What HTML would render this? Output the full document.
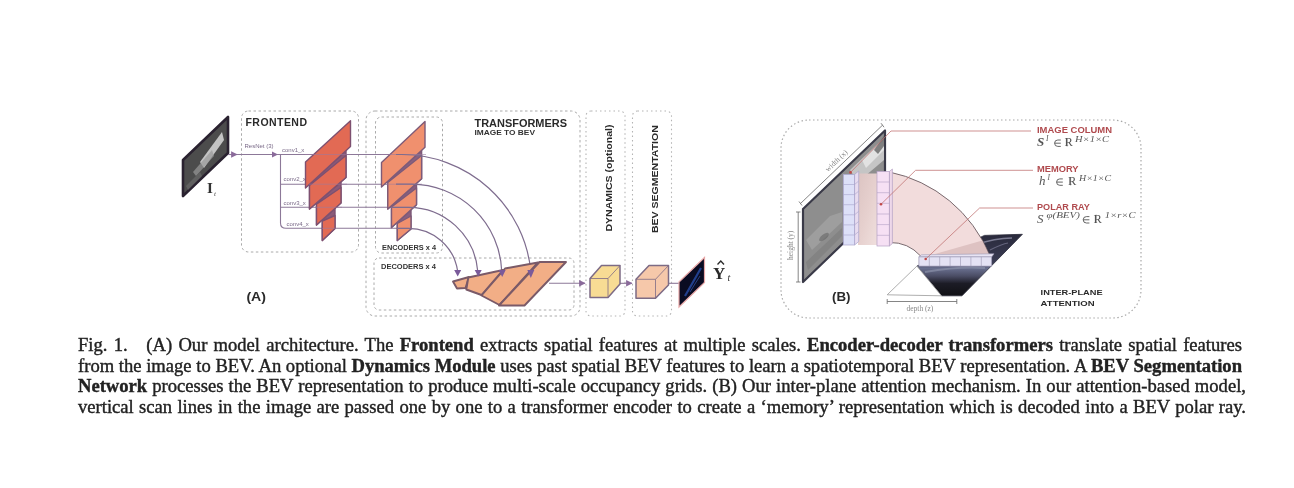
<!DOCTYPE html>
<html><head><meta charset="utf-8">
<style>
html,body{margin:0;padding:0;background:#fff;width:1294px;height:488px;overflow:hidden;position:relative}
body>svg,body>.cap{filter:blur(0.7px)}
.cap{position:absolute;left:78px;top:335px;width:1164px;font-family:"Liberation Serif",serif;font-size:18.6px;line-height:20.7px;color:#222;-webkit-text-stroke:0.4px #222}
.cap div{text-align:justify;text-align-last:justify;}
svg{position:absolute;left:0;top:0}
svg text{font-family:"Liberation Sans",sans-serif}
svg .sf text, svg text.sf{font-family:"Liberation Serif",serif}
</style></head><body>
<svg width="1294" height="488" viewBox="0 0 1294 488">
<defs>
<marker id="ah" viewBox="0 0 10 10" refX="9" refY="5" markerWidth="6.5" markerHeight="6.5" markerUnits="userSpaceOnUse" orient="auto"><path d="M0,0 L10,5 L0,10 Z" fill="#8a6a9a"/></marker>
</defs>
<!-- ===== FIGURE A ===== -->
<g fill="none" stroke="#aaaaaa" stroke-width="1" stroke-dasharray="2.5 2.5">
<rect x="241.5" y="111" width="117" height="141" rx="7"/>
<rect x="366" y="111" width="214" height="205" rx="9"/>
<rect x="375.5" y="117" width="67" height="136" rx="6"/>
<rect x="374" y="258" width="200" height="52" rx="5"/>
</g>
<g fill="none" stroke="#b4b4b4" stroke-width="1.1" stroke-dasharray="1.5 3">
<rect x="586" y="111" width="39" height="205" rx="5"/>
<rect x="632.5" y="111" width="39" height="205" rx="5"/>
</g>
<!-- input image -->
<polygon points="183,160 228,117 228,153 183,196" fill="#4c4c4c" stroke="#2a2230" stroke-width="2.6" stroke-linejoin="round"/>
<polygon points="200,162 222,132 224,140 204,168" fill="#d8d8d8" opacity="0.85"/>
<polygon points="193,172 212,150 214,156 196,176" fill="#9a9a9a" opacity="0.7"/>
<polygon points="186,186 200,172 202,176 188,190" fill="#6a6a6a" opacity="0.7"/>
<text x="207" y="193" font-family="Liberation Serif" font-size="15" font-weight="bold" fill="#333" style="font-family:'Liberation Serif'">I</text>
<text x="214" y="196" font-size="7" fill="#444" font-style="italic" style="font-family:'Liberation Serif'">t</text>
<!-- lines frontend -->
<g fill="none" stroke="#8c7898" stroke-width="1.1">
<path d="M228,154.5 H237" marker-end="url(#ah)"/>
<path d="M237,154.5 H277.5" marker-end="url(#ah)"/>
<path d="M277,154.5 H410"/>
<path d="M280.5,154.5 V223 Q280.5,228.3 286,228.3 H398"/>
<path d="M280.5,184.2 H405"/>
<path d="M280.5,207.3 H400"/>
</g>
<g font-size="6" fill="#7a6a88">
<text x="244.5" y="148">ResNet (3)</text>
<text x="282" y="151.5">conv1_x</text>
<text x="283.5" y="181">conv2_x</text>
<text x="283.5" y="205">conv3_x</text>
<text x="286.5" y="226">conv4_x</text>
</g>
<text x="245.5" y="126" font-size="10.5" font-weight="bold" fill="#2a2a2a" textLength="61.5" lengthAdjust="spacing">FRONTEND</text>
<text x="246.4" y="300.5" font-size="13.5" font-weight="bold" fill="#2a2a2a" textLength="19.6" lengthAdjust="spacingAndGlyphs">(A)</text>
<!-- frontend layers -->
<g stroke="#7d5070" stroke-width="1.4" stroke-linejoin="round" fill="#e26a54">
<path d="M322.3,240.5 V219.8 L335.0,208.4 V228.5 Z" fill="#8a5a78"/><path d="M322.3,240.5 V221.0 L335.0,215.5 V228.5 Z"/>
<path d="M316.5,225.0 V203.0 L341.0,181.8 V203.0 Z" fill="#8a5a78"/><path d="M316.5,225.0 V204.2 L341.0,187.5 V203.0 Z"/>
<path d="M309.5,209.0 V184.3 L346.0,150.7 V177.5 Z" fill="#8a5a78"/><path d="M309.5,209.0 V185.5 L346.0,155.5 V177.5 Z"/>
<path d="M305.5,188.0 V162.0 L350.5,120.8 V146.5 Z"/>
</g>
<!-- encoder layers -->
<g stroke="#7d5a78" stroke-width="1.4" stroke-linejoin="round" fill="#f0906e">
<path d="M397.3,240.5 V222.3 L411.0,209.7 V229.0 Z" fill="#8a6080"/><path d="M397.3,240.5 V223.5 L411.0,216.0 V229.0 Z"/>
<path d="M391.5,227.6 V205.7 L416.5,183.4 V204.7 Z" fill="#8a6080"/><path d="M391.5,227.6 V206.9 L416.5,188.0 V204.7 Z"/>
<path d="M387.8,209.0 V181.3 L421.6,150.4 V178.8 Z" fill="#8a6080"/><path d="M387.8,209.0 V182.5 L421.6,155.5 V178.8 Z"/>
<path d="M381.5,187.0 V162.5 L425.0,121.5 V147.3 Z"/>
</g>
<g fill="none" stroke="#9a7aa0" stroke-width="1" opacity="0.55">
<path d="M305,154.5 H351 M309,184.2 H347 M316,207.3 H342 M322,228.3 H336"/>
<path d="M381,154.5 H426 M387,184.2 H422 M391,207.3 H417 M397,228.3 H412"/>
</g>
<g fill="none" stroke="#7e6c8e" stroke-width="1.2">
<path d="M396,154.5 H401.7 A129.8 129.8 0 0 1 530.8,271"/>
<path d="M396,184.2 H411.4 A90.4 90.4 0 0 1 501.7,271"/>
<path d="M392,207.3 H408.4 A69.6 69.6 0 0 1 477.7,271"/>
<path d="M398,228.3 H408.2 A49.9 49.9 0 0 1 457.6,271"/>
</g>
<g font-size="6.5" font-weight="bold" fill="#333">
<text x="382" y="249.5" textLength="54" lengthAdjust="spacingAndGlyphs">ENCODERS x 4</text>
<text x="381" y="268.5" textLength="55" lengthAdjust="spacingAndGlyphs">DECODERS x 4</text>
</g>
<text x="474.5" y="126.5" font-size="11.5" font-weight="bold" fill="#2a2a2a" textLength="92.5" lengthAdjust="spacingAndGlyphs">TRANSFORMERS</text>
<text x="474.5" y="135" font-size="6.8" font-weight="bold" fill="#333" textLength="60.5" lengthAdjust="spacingAndGlyphs">IMAGE TO BEV</text>
<!-- decoders -->
<g stroke="#7a5a68" stroke-width="1.9" stroke-linejoin="round" fill="#f2ae86">
<path d="M453,281.5 L469,277 L465.5,288 L457,288.5 Z"/>
<path d="M468.3,277.5 L503,270 L481.5,295 L466.3,289.5 Z"/>
<path d="M505,268.5 L538,262.5 L499.5,305 L481.5,295.5 Z"/>
<path d="M539.5,262 H566 L524.5,305.5 H499 Z"/>
</g>
<g fill="#7a5a9a">
<path d="M454.2,270 H461.2 L457.7,276.5 Z"/>
<path d="M474.7,270 H481.7 L478.2,276.5 Z"/>
<path d="M498.7,270 H505.7 L502.2,277 Z"/>
<path d="M527.3,270 H534.3 L530.8,278 Z"/>
</g>
<g fill="none" stroke="#8c7898" stroke-width="1.1">
<path d="M549,283.3 H585" marker-end="url(#ah)"/>
<path d="M608,283.3 H632" marker-end="url(#ah)"/>
<path d="M655,283.3 H681"/>
</g>
<!-- rotated labels -->
<text transform="translate(611.5,231.5) rotate(-90)" font-size="9.6" font-weight="bold" fill="#2a2a2a" textLength="107" lengthAdjust="spacingAndGlyphs">DYNAMICS (optional)</text>
<text transform="translate(658,233) rotate(-90)" font-size="9.6" font-weight="bold" fill="#2a2a2a" textLength="107.8" lengthAdjust="spacingAndGlyphs">BEV SEGMENTATION</text>
<!-- cubes -->
<g stroke="#7d6b85" stroke-width="1.5" stroke-linejoin="round">
<path d="M590,278.5 L601.5,265.5 H620 V284 L608,297.5 H590 Z" fill="#f8dc94"/>
<path d="M590,278.5 H608 L620,265.5 M608,278.5 V297.5" fill="none" stroke-width="0.8"/>
<path d="M636,279.3 L649,265.5 H668.5 V285 L655.5,298.3 H636 Z" fill="#f6c8aa"/>
<path d="M636,279.3 H655.5 L668.5,265.5 M655.5,279.3 V298.3" fill="none" stroke-width="0.8"/>
</g>
<!-- output -->
<polygon points="679,282 704.5,257.5 704.5,282.5 679,307" fill="#0a0c22" stroke="#e8a8a8" stroke-width="1.2"/>
<path d="M685,296 Q692,284 701,268" stroke="#2a50b0" stroke-width="2.2" fill="none" opacity="0.75"/><path d="M690,292 Q696,282 700,276" stroke="#3a64c8" stroke-width="1" fill="none" opacity="0.6"/>
<text x="713" y="279" font-size="17" font-weight="bold" fill="#2a2a2a" style="font-family:'Liberation Serif'">Y</text>
<path d="M717.5,264.5 L720.8,261 L724,264.5" fill="none" stroke="#2a2a2a" stroke-width="1.3"/>
<text x="727.5" y="281" font-size="10" font-style="italic" fill="#333" style="font-family:'Liberation Serif'">t</text>
<!-- ===== FIGURE B ===== -->
<defs>
<linearGradient id="imgB" x1="0" y1="1" x2="1" y2="0">
<stop offset="0" stop-color="#6a6a6c"/><stop offset="0.45" stop-color="#8a8a88"/><stop offset="0.7" stop-color="#b0b0ae"/><stop offset="0.85" stop-color="#d8d8d6"/><stop offset="1" stop-color="#9a9a9a"/>
</linearGradient>
<linearGradient id="bandB" x1="0" y1="0" x2="1" y2="1">
<stop offset="0" stop-color="#dcc4c2"/><stop offset="0.5" stop-color="#e6d0ce"/><stop offset="1" stop-color="#f0e0de"/>
</linearGradient>
<linearGradient id="bevB" x1="0" y1="0" x2="0" y2="1">
<stop offset="0" stop-color="#2a2a3c"/><stop offset="0.48" stop-color="#3a3c54"/><stop offset="0.55" stop-color="#6a7090"/><stop offset="0.68" stop-color="#4a4c64"/><stop offset="0.8" stop-color="#1c1c26"/><stop offset="1" stop-color="#101014"/>
</linearGradient>
</defs>
<rect x="781" y="120" width="360" height="198" rx="28" fill="none" stroke="#a8a8a8" stroke-width="1.2" stroke-dasharray="1.5 2.5"/>
<!-- image plane -->
<polygon points="803,209 885,130.5 885,203 803,282" fill="#8e8e8e" stroke="#3a3a48" stroke-width="2.2" stroke-linejoin="round"/>
<polygon points="850,170 884,138 884,160 858,182" fill="#cfcfcf" opacity="0.85"/>
<polygon points="862,160 884,140 884,150 866,168" fill="#e8e8e8" opacity="0.8"/>
<polygon points="874,150 884,136 884,146 878,154" fill="#555" opacity="0.7"/>
<polygon points="806,240 830,216 842,212 842,222 812,250" fill="#a8a8a8" opacity="0.6"/>
<ellipse cx="824" cy="237" rx="6" ry="2.5" transform="rotate(-40 824 237)" fill="#5a5a5a" opacity="0.5"/>
<polygon points="806,262 842,228 842,236 808,270" fill="#777" opacity="0.5"/>
<!-- dimension lines -->
<g stroke="#666" stroke-width="0.8" fill="none">
<path d="M800.5,203.5 L882.5,125.2 M799,201.5 L802,205.5 M881,123.2 L884,127.2"/>
<path d="M798.2,212 V282 M796,212 H800.5 M796,282 H800.5"/>
<path d="M887.2,301.5 H956.8 M887.2,299 V304 M956.8,299 V304"/>
</g>
<g font-size="7.5" fill="#888" class="sf">
<text transform="translate(828,172) rotate(-43.6)">width (x)</text>
<text transform="translate(792.5,260) rotate(-90)">height (y)</text>
<text x="906.5" y="311">depth (z)</text>
</g>
<!-- BEV plane -->
<polygon points="916.9,266.1 984.5,235.4 1022.4,234.3 962,295.8 941.5,295.8" fill="url(#bevB)" stroke="#2a2a38" stroke-width="0.8"/>
<path d="M975,245 Q995,238 1012,238" stroke="#9090a8" stroke-width="1.6" fill="none" opacity="0.8"/>
<path d="M990,250 Q1002,244 1008,243" stroke="#7a7a94" stroke-width="1.2" fill="none" opacity="0.7"/>
<path d="M925,272 Q960,266 985,268" stroke="#8a90a8" stroke-width="2" fill="none" opacity="0.7"/>
<polygon points="887.2,294.8 916.9,266.1 941.5,295.8" fill="#fff" stroke="#999" stroke-width="0.8"/>
<!-- band between columns -->
<polygon points="858,173.4 878,173.4 878,245 858,245" fill="url(#bandB)"/>
<!-- image column -->
<rect x="843.3" y="174.4" width="11.3" height="70.6" fill="#dde0f8" stroke="#a8a4cc" stroke-width="0.7"/>
<polygon points="854.6,174.4 858.7,171 858.7,241.5 854.6,245" fill="#e8dcf0" stroke="#a8a4cc" stroke-width="0.7"/>
<g stroke="#a8a4cc" stroke-width="0.6">
<path d="M843.3,184.5 H854.6 M843.3,194.6 H854.6 M843.3,204.7 H854.6 M843.3,214.8 H854.6 M843.3,224.9 H854.6 M843.3,235 H854.6"/>
<path d="M854.6,184.5 L858.7,181 M854.6,194.6 L858.7,191.1 M854.6,204.7 L858.7,201.2 M854.6,214.8 L858.7,211.3 M854.6,224.9 L858.7,221.4 M854.6,235 L858.7,231.5"/>
</g>
<!-- pink arc -->
<path d="M889.4,172 A138.7 138.7 0 0 1 989.4,254.7 L920.6,256 A 41 41 0 0 0 889.4,242.5 Z" fill="#f2dcdc" stroke="#6a5a60" stroke-width="0.9"/>
<polygon points="935,254 982.4,240.5 988.6,254" fill="#d8bcbc" opacity="0.8"/>
<!-- memory column -->
<rect x="877" y="171.4" width="12.4" height="74.6" fill="#f6e0f4" stroke="#b4a0c4" stroke-width="0.7"/>
<polygon points="889.4,171.4 892.4,169 892.4,243.5 889.4,246" fill="#eed8ea" stroke="#b4a0c4" stroke-width="0.7"/>
<g stroke="#b4a0c4" stroke-width="0.6">
<path d="M877,182 H889.4 M877,192.7 H889.4 M877,203.3 H889.4 M877,214 H889.4 M877,224.6 H889.4 M877,235.3 H889.4"/>
</g>
<!-- polar ray cells -->
<polygon points="918.9,256.9 921.5,254.8 994,253.8 991.7,256.9" fill="#e8e4f4" stroke="#9c98b4" stroke-width="0.6"/>
<rect x="918.9" y="256.9" width="72.8" height="9.2" fill="#e4e2f4" stroke="#9c98b4" stroke-width="0.7"/>
<g stroke="#9c98b4" stroke-width="0.6">
<path d="M929.3,256.9 V266.1 M939.7,256.9 V266.1 M950.1,256.9 V266.1 M960.5,256.9 V266.1 M970.9,256.9 V266.1 M981.3,256.9 V266.1"/>
</g>
<!-- leader lines -->
<g stroke="#c07070" stroke-width="0.9" fill="none" opacity="0.85">
<path d="M850.5,172.4 L891,131 H1031"/>
<path d="M881,204.3 L915.6,170.3 H1033"/>
<path d="M925.7,259 L979.6,208 H1033"/>
</g>
<g fill="#c04848"><circle cx="850.5" cy="172.4" r="1.3"/><circle cx="881" cy="204.3" r="1.3"/><circle cx="925.7" cy="259" r="1.3"/></g>
<!-- labels -->
<g font-size="8.4" fill="#b04a4e" font-weight="bold">
<text x="1037" y="133" textLength="75" lengthAdjust="spacingAndGlyphs">IMAGE COLUMN</text>
<text x="1037" y="171.5" textLength="41.6" lengthAdjust="spacingAndGlyphs">MEMORY</text>
<text x="1037" y="209.5" textLength="52.8" lengthAdjust="spacingAndGlyphs">POLAR RAY</text>
</g>
<g fill="#555" class="sf">
<text x="1037" y="146.4" font-size="13" font-weight="bold" font-style="italic">S</text>
<text x="1046" y="140.5" font-size="7.5" font-style="italic">I</text>
<text x="1075" y="141.5" font-size="8.5" font-style="italic" textLength="34" lengthAdjust="spacingAndGlyphs">H×1×C</text>
<text x="1064.5" y="146.4" font-size="12.5">R</text><path d="M1067.1,138.1 V146.4" stroke="#555" stroke-width="0.7"/>
<text x="1039" y="185.3" font-size="13" font-style="italic">h</text>
<text x="1047.5" y="179.5" font-size="7.5" font-style="italic">I</text>
<text x="1079" y="180.5" font-size="8.5" font-style="italic" textLength="32" lengthAdjust="spacingAndGlyphs">H×1×C</text>
<text x="1068" y="185.3" font-size="12.5">R</text><path d="M1070.6,177.0 V185.3" stroke="#555" stroke-width="0.7"/>
<text x="1037" y="223" font-size="13" font-style="italic">S</text>
<text x="1046.4" y="218" font-size="8.5" font-style="italic" textLength="33.6" lengthAdjust="spacingAndGlyphs">φ(BEV)</text>
<text x="1104.8" y="218" font-size="8.5" font-style="italic" textLength="30.7" lengthAdjust="spacingAndGlyphs">1×r×C</text>
<text x="1093.5" y="223" font-size="12.5">R</text><path d="M1096.1,214.7 V223" stroke="#555" stroke-width="0.7"/>
</g>
<path d="M1060.8,140.0 H1057.8 A3.2 3.2 0 0 0 1057.8,146.4 H1060.8 M1054.6,143.20000000000002 H1060.8 M1062.8,178.9 H1059.8 A3.2 3.2 0 0 0 1059.8,185.3 H1062.8 M1056.6,182.10000000000002 H1062.8 M1089.4,216.6 H1086.4 A3.2 3.2 0 0 0 1086.4,223 H1089.4 M1083.2,219.8 H1089.4" fill="none" stroke="#555" stroke-width="0.9"/>
<text x="832" y="300.5" font-size="13" font-weight="bold" fill="#2a2a2a" textLength="18.5" lengthAdjust="spacingAndGlyphs">(B)</text>
<g font-size="7.6" font-weight="bold" fill="#2a2a2a">
<text x="1040.6" y="294.5" textLength="62" lengthAdjust="spacingAndGlyphs">INTER-PLANE</text>
<text x="1040.6" y="306" textLength="54" lengthAdjust="spacingAndGlyphs">ATTENTION</text>
</g>
</svg>
<div class="cap">
<div>Fig. 1.&nbsp;&nbsp;&nbsp;(A) Our model architecture. The <b>Frontend</b> extracts spatial features at multiple scales. <b>Encoder-decoder transformers</b> translate spatial features</div>
<div>from the image to BEV. An optional <b>Dynamics Module</b> uses past spatial BEV features to learn a spatiotemporal BEV representation. A <b>BEV Segmentation</b></div>
<div style="margin-right:-4px"><b>Network</b> processes the BEV representation to produce multi-scale occupancy grids. (B) Our inter-plane attention mechanism. In our attention-based model,</div>
<div style="margin-right:-4px">vertical scan lines in the image are passed one by one to a transformer encoder to create a ‘memory’ representation which is decoded into a BEV polar ray.</div>
</div>
</body></html>
